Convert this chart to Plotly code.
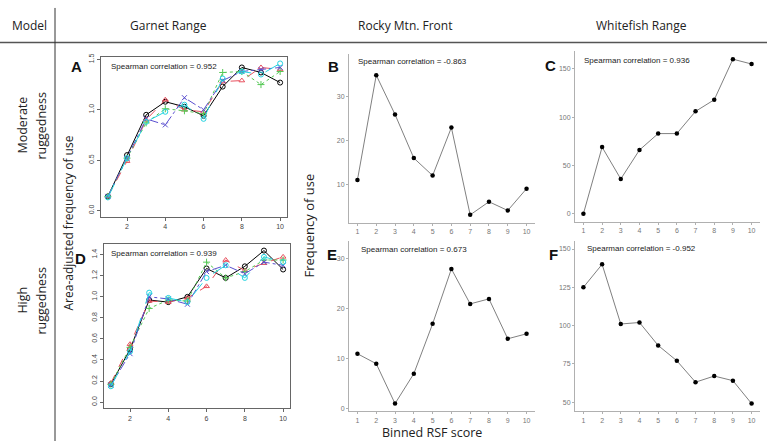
import plotly.graph_objects as go

W, H = 767, 442

bins = list(range(1, 11))

# Garnet Range - moderate ruggedness (5 model replicates)
gm_black = [0.14, 0.55, 0.95, 1.08, 1.03, 0.94, 1.23, 1.42, 1.37, 1.27]
gm_red   = [0.14, 0.49, 0.90, 1.10, 1.00, 0.98, 1.28, 1.29, 1.42, 1.40]
gm_green = [0.14, 0.52, 0.87, 1.01, 0.99, 0.96, 1.37, 1.38, 1.25, 1.38]
gm_blue  = [0.14, 0.52, 0.91, 0.85, 1.12, 1.00, 1.29, 1.38, 1.40, 1.42]
gm_cyan  = [0.13, 0.52, 0.88, 0.98, 1.05, 0.91, 1.31, 1.38, 1.35, 1.46]

# Garnet Range - high ruggedness
gh_black = [0.17, 0.50, 0.97, 0.95, 1.00, 1.27, 1.18, 1.29, 1.44, 1.26]
gh_red   = [0.18, 0.55, 0.96, 0.95, 0.99, 1.10, 1.35, 1.25, 1.32, 1.38]
gh_green = [0.17, 0.52, 0.89, 0.97, 0.96, 1.33, 1.18, 1.24, 1.35, 1.35]
gh_blue  = [0.16, 0.46, 1.00, 0.98, 0.93, 1.24, 1.30, 1.22, 1.33, 1.30]
gh_cyan  = [0.15, 0.48, 1.04, 0.99, 0.95, 1.18, 1.30, 1.18, 1.38, 1.33]

# Rocky Mtn. Front / Whitefish Range - frequency of use
rocky_mod = [11, 35, 26, 16, 12, 23, 3, 6, 4, 9]
rocky_high = [11, 9, 1, 7, 17, 28, 21, 22, 14, 15]
white_mod = [0, 69, 36, 66, 83, 83, 106, 118, 160, 155]
white_high = [125, 140, 101, 102, 87, 77, 63, 67, 64, 49]

corr_text = {"A": "0.952", "B": "-0.863", "C": "0.936",
             "D": "0.939", "E": "0.673", "F": "-0.952"}

col_headers = ["Garnet Range", "Rocky Mtn. Front", "Whitefish Range"]
row_headers = [["Moderate", "ruggedness"], ["High", "ruggedness"]]

ga_ticks = [0.0, 0.5, 1.0, 1.5]
gd_ticks = [0.0, 0.2, 0.4, 0.6, 0.8, 1.0, 1.2, 1.4]

def xd(l, r):
    return [l / W, r / W]

def yd(t, b):
    return [1 - b / H, 1 - t / H]

def px(x):
    return x / W

def py(y):
    return 1 - y / H

fig = go.Figure()

series_style = [
    ("#000000", "solid", "circle-open"),
    ("#E8505E", "dash", "triangle-up-open"),
    ("#55C855", "dot", "cross-thin-open"),
    ("#5A4FCF", "dashdot", "x-thin-open"),
    ("#22D3E0", "longdash", "circle-open"),
]

for k, ys in enumerate([gm_black, gm_red, gm_green, gm_blue, gm_cyan]):
    c, d, s = series_style[k]
    fig.add_trace(go.Scatter(x=bins, y=ys, mode="lines+markers", xaxis="x", yaxis="y",
                             line=dict(color=c, width=1, dash=d),
                             marker=dict(symbol=s, size=5, color=c, line=dict(width=1, color=c)),
                             showlegend=False))
for k, ys in enumerate([gh_black, gh_red, gh_green, gh_blue, gh_cyan]):
    c, d, s = series_style[k]
    fig.add_trace(go.Scatter(x=bins, y=ys, mode="lines+markers", xaxis="x4", yaxis="y4",
                             line=dict(color=c, width=1, dash=d),
                             marker=dict(symbol=s, size=5, color=c, line=dict(width=1, color=c)),
                             showlegend=False))

for ys, xa, ya in [(rocky_mod, "x2", "y2"), (white_mod, "x3", "y3"),
                   (rocky_high, "x5", "y5"), (white_high, "x6", "y6")]:
    fig.add_trace(go.Scatter(x=bins, y=ys, mode="lines+markers", xaxis=xa, yaxis=ya,
                             line=dict(color="#808080", width=1),
                             marker=dict(symbol="circle", size=4.5, color="#000000"),
                             showlegend=False))

r_axis = dict(showline=True, mirror=True, linecolor="#666", linewidth=1, ticks="outside",
              ticklen=3, tickcolor="#666", tickfont=dict(size=7, color="#444", family="Liberation Sans"),
              showgrid=False, zeroline=False)
gg_axis = dict(showline=True, mirror=False, linecolor="#b0b0b0", linewidth=1, ticks="outside",
               ticklen=2, tickcolor="#b0b0b0", tickfont=dict(size=7, color="#777", family="Liberation Sans"),
               showgrid=False, zeroline=False)

layout = dict(
    width=W, height=H, margin=dict(l=0, r=0, t=0, b=0),
    paper_bgcolor="white", plot_bgcolor="white", showlegend=False,
)

# A
layout["xaxis"] = dict(r_axis, domain=xd(101, 287), range=[0.64, 10.36], anchor="y",
                       tickvals=[2, 4, 6, 8, 10])
layout["yaxis"] = dict(r_axis, domain=yd(54, 215), range=[-0.06, 1.52], anchor="x",
                       tickvals=ga_ticks, ticktext=[f"{v:.1f}" for v in ga_ticks], tickangle=-90)
# D
layout["xaxis4"] = dict(r_axis, domain=xd(104, 290), range=[0.64, 10.36], anchor="y4",
                        tickvals=[2, 4, 6, 8, 10])
layout["yaxis4"] = dict(r_axis, domain=yd(243, 409), range=[-0.06, 1.5], anchor="x4",
                        tickvals=gd_ticks, ticktext=[f"{v:.1f}" for v in gd_ticks], tickangle=-90)
# B
layout["xaxis2"] = dict(gg_axis, domain=xd(349, 535), range=[0.55, 10.45], anchor="y2", tickvals=bins)
layout["yaxis2"] = dict(gg_axis, domain=yd(51, 221), range=[1.25, 39.75], anchor="x2", tickvals=[10, 20, 30])
# C
layout["xaxis3"] = dict(gg_axis, domain=xd(575, 760), range=[0.55, 10.45], anchor="y3", tickvals=bins)
layout["yaxis3"] = dict(gg_axis, domain=yd(48, 220), range=[-8, 168], anchor="x3", tickvals=[0, 50, 100, 150])
# E
layout["xaxis5"] = dict(gg_axis, domain=xd(349, 535), range=[0.55, 10.45], anchor="y5", tickvals=bins)
layout["yaxis5"] = dict(gg_axis, domain=yd(240, 412), range=[-0.55, 33.55], anchor="x5", tickvals=[0, 10, 20, 30])
# F
layout["xaxis6"] = dict(gg_axis, domain=xd(575, 760), range=[0.55, 10.45], anchor="y6", tickvals=bins)
layout["yaxis6"] = dict(gg_axis, domain=yd(240, 412), range=[43.95, 155.05], anchor="x6",
                        tickvals=[50, 75, 100, 125, 150])

fig.update_layout(**layout)

ann = []
def text(x, y, t, size=13, color="#222", bold=False, angle=0, family="Open Sans"):
    ann.append(dict(x=px(x), y=py(y), xref="paper", yref="paper", text=f"<b>{t}</b>" if bold else t,
                    showarrow=False, xanchor="center", yanchor="middle", textangle=angle,
                    font=dict(size=size, color=color, family=family)))

# headers
text(29, 22, "Model", 12)
for cx, t in zip([168, 405, 641], col_headers):
    text(cx, 22, t, 12)
# row headers
text(23, 123, row_headers[0][0], 12.5, angle=-90)
text(42, 123, row_headers[0][1], 12.5, angle=-90)
text(23, 300, row_headers[1][0], 12.5, angle=-90)
text(42, 300, row_headers[1][1], 12.5, angle=-90)
# axis titles
text(68, 222, "Area-adjusted frequency of use", 12, angle=-90)
text(309, 224, "Frequency of use", 13, angle=-90)
text(432, 433, "Binned RSF score", 12.5)
# panel letters
for lx, ly, L in [(76, 63, "A"), (80, 257, "D"), (333, 63, "B"), (332, 253, "E"), (550, 62, "C"), (553, 253, "F")]:
    text(lx, ly, L, 15, color="#111", bold=True, family="Liberation Sans")
# correlation texts
for cx, cy, L in [(164, 63, "A"), (164, 252, "D"), (412, 58, "B"), (414, 248, "E"), (637, 57, "C"), (641, 247, "F")]:
    text(cx, cy, "Spearman correlation = " + corr_text[L], 8, color="#222", family="Liberation Sans")

fig.update_layout(annotations=ann)

shapes = [
    dict(type="line", xref="paper", yref="paper", x0=0, x1=1, y0=py(39), y1=py(39),
         line=dict(color="#555", width=1.5)),
    dict(type="line", xref="paper", yref="paper", x0=px(55), x1=px(55), y0=py(4), y1=py(442),
         line=dict(color="#333", width=1)),
]
fig.update_layout(shapes=shapes)

fig.write_html("out.html", config={"displayModeBar": False, "staticPlot": True},
               post_script="document.body.style.margin='0';document.body.style.overflow='hidden';")
